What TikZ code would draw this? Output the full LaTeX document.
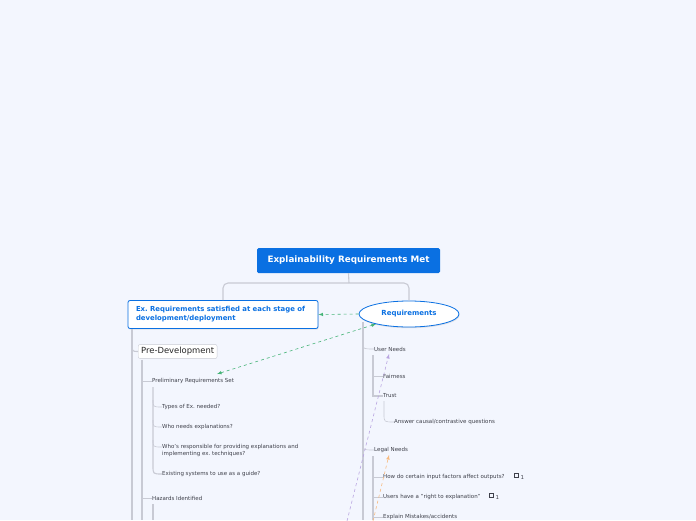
\documentclass[tikz,border=0pt]{standalone}
\usepackage{fontspec}
\setmainfont{DejaVu Sans}
\usetikzlibrary{calc}
\usetikzlibrary{arrows.meta}
\usetikzlibrary{shapes.geometric}
\usetikzlibrary{shadows}
\tikzset{>=latex}
\definecolor{bgblue}{RGB}{243,246,254}
\definecolor{topblue}{RGB}{10,112,226}
\definecolor{linegray}{RGB}{200,202,212}
\definecolor{txtgray}{RGB}{62,64,74}
\definecolor{lnkgreen}{RGB}{70,180,120}
\definecolor{lnkpurple}{RGB}{185,165,225}
\definecolor{lnkorange}{RGB}{248,185,125}
\tikzset{
  leaf/.style={anchor=west,inner sep=0pt,text=txtgray,font=\fontsize{5.5}{7.2}\selectfont},
  twig/.style={draw=linegray,line width=0.6pt},
  trunk/.style={draw=linegray,line width=1.1pt},
  softshadow/.style={drop shadow={opacity=0.18,shadow xshift=0.6pt,shadow yshift=-1.2pt}}
}

\begin{document}
\frenchspacing
\begin{tikzpicture}[x=1pt,y=-1pt]
			\fill[bgblue] (0,0) rectangle (696,520);
			\useasboundingbox (0,0) rectangle (696,520);
			\clip (0,0) rectangle (696,520);
			% main topics
			\node[fill=topblue,text=white,rounded corners=1.5pt,minimum width=183pt,minimum height=25pt,font=\bfseries\fontsize{8.8}{10}\selectfont] (root) at (348.5,260.5) {Explainability Requirements Met};
			\coordinate (fork) at (349,283);
			\node[draw=topblue,fill=white,line width=0.8pt,rounded corners=2pt,softshadow,minimum width=190pt,minimum height=28pt,text width=174pt,align=left,text=topblue,font=\bfseries\fontsize{6.9}{9.2}\selectfont] (stages) at (223,314.5) {Ex. Requirements satisfied at each stage of\\development/deployment};
			\draw[trunk] (363,322)--(363,520);
			\node[ellipse,draw=topblue,fill=white,line width=0.8pt,softshadow,minimum width=100pt,minimum height=26pt,text=topblue,font=\bfseries\fontsize{7}{8}\selectfont] (reqs) at (409,314) {Requirements};
			\draw[trunk] (root.south)--(fork);
			\draw[trunk,rounded corners=5pt] (stages.north)|-(fork)-|(reqs.north);
			% left side
			\node[draw=linegray,fill=white,rounded corners=2pt,inner sep=3pt,anchor=west,text=black!85,font=\fontsize{8.4}{9}\selectfont] (predev) at (138,351.5) {Pre-Development};
			\draw[trunk] (132,329)--(132,520);
			\draw[trunk] (132,343) .. controls (132,351.5) .. (predev.west);
			\node[leaf] (prelim) at (152,381) {Preliminary Requirements Set};
			\node[leaf] (types) at (162,407) {Types of Ex. needed?};
			\node[leaf] (whoneeds) at (162,427) {Who needs explanations?};
			\node[leaf,align=left] (whoresp) at (162,450.5) {Who's responsible for providing explanations and\\implementing ex. techniques?};
			\node[leaf] (existing) at (162,474) {Existing systems to use as a guide?};
			\node[leaf] (hazards) at (152,498) {Hazards Identified};
			\draw[trunk] (142,359.5)--(142,520);
			\draw[twig] (142,381)--(prelim.west);
			\draw[twig] (142,498)--(hazards.west);
			\draw[trunk] (153,387)--(153,466) .. controls (153,474) .. (existing.west);
			\draw[twig] (153,400) .. controls (153,407) .. (types.west);
			\draw[twig] (153,420) .. controls (153,427) .. (whoneeds.west);
			\draw[twig] (153,440) .. controls (153,447) .. ($(whoresp.north west)+(0,3)$);
			\draw[trunk] (153,504)--(153,520);
			% right side
			\node[leaf] (user) at (374,349) {User Needs};
			\node[leaf] (fair) at (383,376) {Fairness};
			\node[leaf] (trust) at (383,396) {Trust};
			\node[leaf] (causal) at (394,422) {Answer causal/contrastive questions};
			\node[leaf] (legal) at (374,450) {Legal Needs};
			\node[leaf] (inputs) at (383,477) {How do certain input factors affect outputs?};
			\node[leaf] (right) at (383,497) {Users have a "right to explanation"};
			\node[leaf] (mistakes) at (383,517) {Explain Mistakes/accidents};
			\draw[twig] (363,343) .. controls (363,349) .. (user.west);
			\draw[twig] (363,444) .. controls (363,450) .. (legal.west);
			\draw[trunk] (373,355)--(373,396)--(trust.west);
			\draw[twig] (373,376)--(fair.west);
			\draw[twig] (384,401)--(384,414) .. controls (384,422) .. (causal.west);
			\draw[trunk] (373,456)--(373,520);
			\draw[twig] (373,477)--(inputs.west);
			\draw[twig] (373,497)--(right.west);
			\draw[twig] (373,517)--(mistakes.west);
			% notes
			\node[draw=txtgray,line width=0.4pt,inner sep=0pt,minimum size=4pt] (noteA) at (516.5,475) {};
			\node[leaf,anchor=west] (countA) at (520.5,477.5) {1};
			\node[draw=txtgray,line width=0.4pt,inner sep=0pt,minimum size=4pt] (noteB) at (491.5,495) {};
			\node[leaf,anchor=west] (countB) at (495.5,497.5) {1};
			% links
			\coordinate (reqtip) at (376,324);
			\coordinate (prelimtip) at (217,374);
			\coordinate (purplefoot) at (347,521);
			\coordinate (usertip) at (389,354);
			\coordinate (orangefoot) at (373,521);
			\coordinate (legaltip) at (389,455);
			\draw[lnkgreen,dashed,line width=0.6pt,->] (reqs.west)--(stages.east);
			\draw[lnkgreen,dashed,line width=0.6pt,<->] (prelimtip)--(reqtip);
			\draw[lnkpurple,dashed,line width=0.6pt,->] (purplefoot)--(usertip);
			\draw[lnkorange,dashed,line width=0.6pt,->] (orangefoot)--(legaltip);
		\end{tikzpicture}
\end{document}
